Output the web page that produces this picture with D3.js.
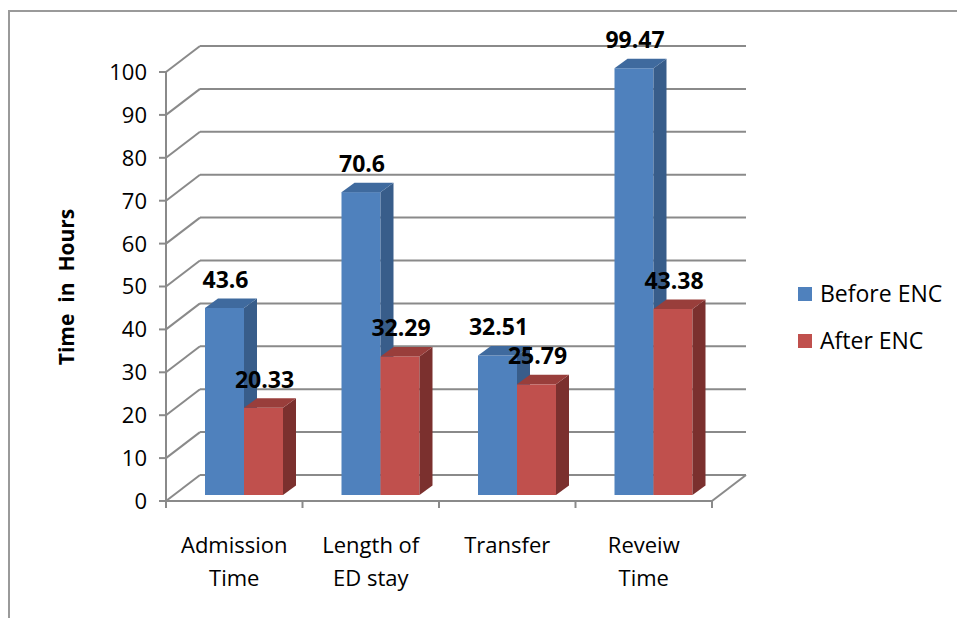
<!DOCTYPE html>
<html><head><meta charset="utf-8">
<script src="https://cdn.jsdelivr.net/npm/d3@7"></script>
<style>body{margin:0;background:#fff}svg{display:block}text{font-family:"Open Sans",sans-serif}</style>
</head><body>
<svg id="c" width="957" height="618"></svg>
<script>
const categories = [["Admission","Time"],["Length of","ED stay"],["Transfer"],["Reveiw","Time"]];
const seriesNames = ["Before ENC","After ENC"];
const beforeENC = [43.6, 70.6, 32.51, 99.47];
const afterENC = [20.33, 32.29, 25.79, 43.38];
const yTicks = [0,10,20,30,40,50,60,70,80,90,100];

const svg = d3.select("#c");
const W = 957, H = 618;
const colors = {front:["#4F81BD","#C0504D"], side:["#385D8A","#7B302E"], top:["#3F6A9E","#993E3B"]};
const grid = "#8A8A8A";

// border
svg.append("path").attr("d",`M9,${H} L9,11 L${W},11`).attr("fill","none").attr("stroke","#9A9A9A").attr("stroke-width",2);

const x = d3.scaleBand().domain(d3.range(categories.length)).range([166,712]).padding(0);
const y = d3.scaleLinear().domain([0,100]).range([501,72]);
const xs = d3.scaleBand().domain([0,1]).range([31,109]).padding(0);
const back = {dx:34, dy:-26}, plane = {dx:8, dy:-6}, depth = {dx:13, dy:-9.5};

const g = svg.append("g");
yTicks.forEach(v => {
  const yy = y(v);
  g.append("line").attr("x1",166+back.dx).attr("x2",712+back.dx).attr("y1",yy+back.dy).attr("y2",yy+back.dy)
    .attr("stroke",grid).attr("stroke-width",2);
  g.append("line").attr("x1",166).attr("y1",yy).attr("x2",166+back.dx).attr("y2",yy+back.dy)
    .attr("stroke",grid).attr("stroke-width",2);
});
g.append("line").attr("x1",712).attr("y1",y(0)).attr("x2",712+back.dx).attr("y2",y(0)+back.dy).attr("stroke",grid).attr("stroke-width",2);
g.append("line").attr("x1",166).attr("x2",166).attr("y1",y(100)).attr("y2",y(0)).attr("stroke",grid).attr("stroke-width",2);
g.append("line").attr("x1",166).attr("x2",712).attr("y1",y(0)).attr("y2",y(0)).attr("stroke",grid).attr("stroke-width",2);
yTicks.forEach(v => {
  g.append("line").attr("x1",159).attr("x2",166).attr("y1",y(v)).attr("y2",y(v)).attr("stroke",grid).attr("stroke-width",2);
  g.append("text").attr("x",147).attr("y",y(v)).attr("dy","0.36em").attr("text-anchor","end")
    .attr("font-size",22).attr("fill","#000").text(v);
});
const bounds = d3.range(categories.length).map(i=>x(i)).concat([x(categories.length-1)+x.bandwidth()]);
bounds.forEach(b => g.append("line").attr("x1",b).attr("x2",b).attr("y1",y(0)).attr("y2",y(0)+7).attr("stroke",grid).attr("stroke-width",2));
categories.forEach((lines,i) => {
  const t = g.append("text").attr("x",x(i)+x.bandwidth()/2).attr("y",553).attr("text-anchor","middle").attr("font-size",22).attr("fill","#000");
  lines.forEach((l,k) => t.append("tspan").attr("x",x(i)+x.bandwidth()/2).attr("dy",k?33:0).text(l));
});

const series = [beforeENC, afterENC];
const labels = [];
categories.forEach((c,i) => {
  series.forEach((vals,s) => {
    const v = vals[i];
    const x0 = x(i) + plane.dx + xs(s), w = xs.bandwidth();
    const yb = y(0) + plane.dy, yt = y(v) + plane.dy;
    g.append("rect").attr("x",x0).attr("y",yt).attr("width",w).attr("height",yb-yt).attr("fill",colors.front[s]);
    g.append("polygon").attr("points",[[x0+w,yb],[x0+w+depth.dx,yb+depth.dy],[x0+w+depth.dx,yt+depth.dy],[x0+w,yt]].join(" ")).attr("fill",colors.side[s]);
    g.append("polygon").attr("points",[[x0,yt],[x0+depth.dx,yt+depth.dy],[x0+w+depth.dx,yt+depth.dy],[x0+w,yt]].join(" ")).attr("fill",colors.top[s]);
    labels.push({x:x0+w/2+1, y:yt+depth.dy-19, v});
  });
});
labels.forEach(l => g.append("text").attr("x",l.x).attr("y",l.y).attr("dy","0.36em").attr("text-anchor","middle")
  .attr("font-size",23).attr("font-weight","bold").attr("fill","#000").text(l.v));

svg.append("text").attr("transform","translate(66,287) rotate(-90)").attr("text-anchor","middle").attr("dy","0.36em")
  .attr("font-size",21).attr("font-weight","bold").style("white-space","pre").text("Time  in  Hours");

seriesNames.forEach((n,s) => {
  const ly = 294 + s*47;
  svg.append("rect").attr("x",798).attr("y",ly-7).attr("width",14).attr("height",14).attr("fill",colors.front[s]);
  svg.append("text").attr("x",820).attr("y",ly).attr("dy","0.36em").attr("font-size",23).attr("fill","#000").text(n);
});
</script>
</body></html>
